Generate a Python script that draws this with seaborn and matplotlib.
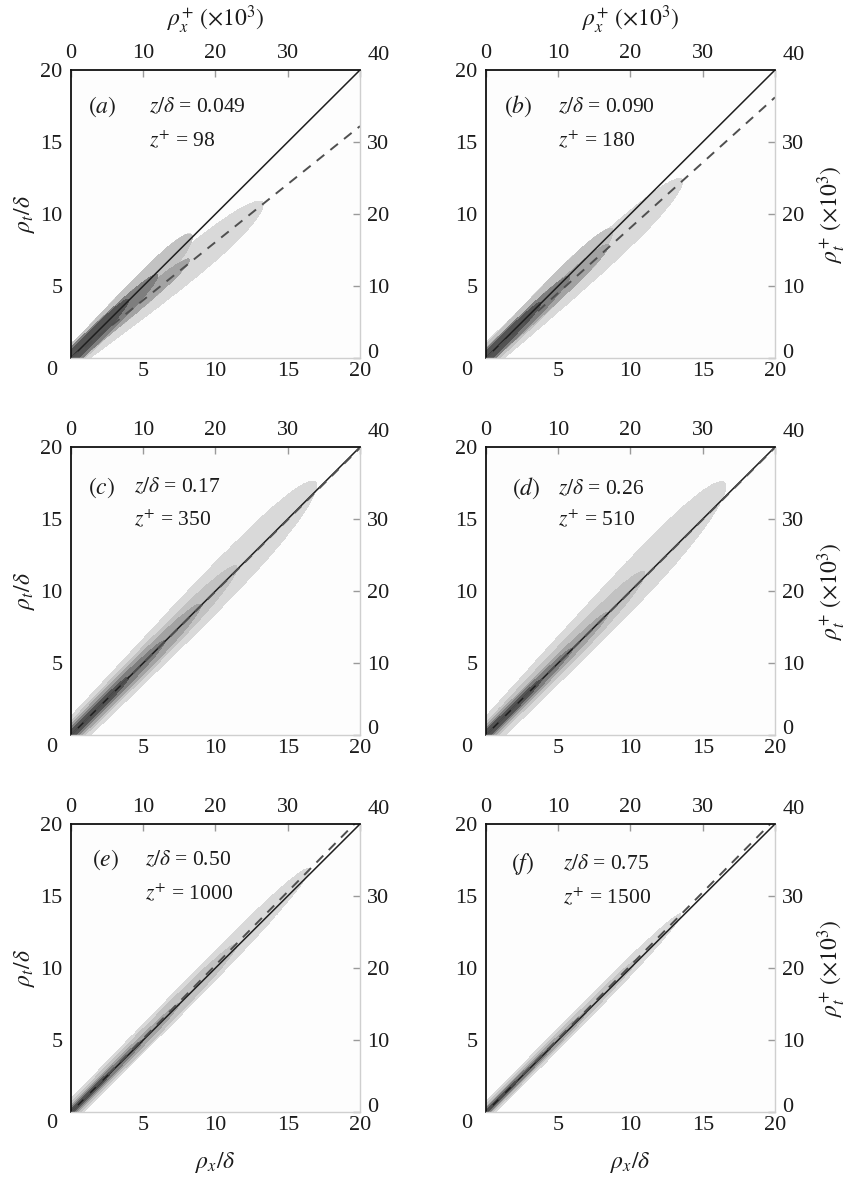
import numpy as np
import matplotlib
matplotlib.use('Agg')
import matplotlib.pyplot as plt
import seaborn as sns

# Panel annotations
panel_tags = ['a', 'b', 'c', 'd', 'e', 'f']
z_over_delta = ['0.049', '0.090', '0.17', '0.26', '0.50', '0.75']
z_plus = ['98', '180', '350', '510', '1000', '1500']

# Slopes of the reference lines (solid: rho_t = rho_x, dashed: ridge of the spectrum)
solid_slope = [1.0, 1.0, 1.0, 1.0, 1.0, 1.0]
dashed_slope = [0.805, 0.905, 0.997, 0.998, 1.02, 1.017]

# Shaded regions: (slope, half-height at origin, growth, end x, shade level)
bands_a = [(0.80, 1.0, 0.05, 13.3, 1), (1.00, 0.9, 0.06, 8.4, 2), (0.83, 0.55, 0.02, 8.2, 3),
           (0.95, 0.75, 0.00, 6.0, 4), (1.00, 0.55, 0.00, 4.0, 5)]
bands_b = [(0.90, 1.1, 0.04, 13.6, 1), (1.00, 0.9, 0.05, 8.8, 2), (0.92, 0.55, 0.03, 8.5, 3),
           (0.97, 0.65, 0.00, 5.8, 4), (1.00, 0.45, 0.00, 3.8, 5)]
bands_c = [(1.02, 1.3, 0.06, 17.0, 1), (1.01, 0.95, 0.03, 11.5, 2), (1.00, 0.75, 0.02, 9.0, 3),
           (1.00, 0.55, 0.00, 6.5, 4), (1.00, 0.35, 0.00, 4.0, 5)]
bands_d = [(1.04, 1.3, 0.07, 16.6, 1), (1.02, 0.85, 0.04, 11.0, 2), (1.00, 0.65, 0.00, 8.5, 3),
           (1.00, 0.45, 0.00, 6.0, 4), (1.00, 0.3, 0.00, 3.8, 5)]
bands_e = [(1.02, 0.9, 0.02, 16.5, 1), (1.01, 0.65, 0.02, 11.5, 2), (1.00, 0.45, 0.00, 7.5, 3),
           (1.00, 0.32, 0.00, 5.0, 4), (1.00, 0.2, 0.00, 2.8, 5)]
bands_f = [(1.015, 0.7, 0.01, 13.5, 1), (1.01, 0.5, 0.00, 10.5, 2), (1.00, 0.34, 0.00, 7.0, 3),
           (1.00, 0.24, 0.00, 4.5, 4), (1.00, 0.15, 0.00, 2.2, 5)]
all_bands = [bands_a, bands_b, bands_c, bands_d, bands_e, bands_f]

shade_colors = ['#d9d9d9', '#c2c2c2', '#a3a3a3', '#7e7e7e', '#545454']

# Text placement (data coords)
tag_x = [2.15, 2.25, 2.1, 2.75, 2.4, 2.5]
txt_x = [5.4, 4.95, 4.35, 4.95, 5.15, 5.35]
txt_y1 = [17.45, 17.45, 17.2, 17.1, 17.5, 17.2]
txt_y2 = [15.1, 15.1, 15.0, 14.95, 15.2, 14.9]

sns.set_theme(style='white')
plt.rcParams['font.family'] = ['Liberation Serif', 'DejaVu Serif']
plt.rcParams['mathtext.fontset'] = 'stix'

fig = plt.figure(figsize=(8.49, 11.82), dpi=100)
W, H = 849, 1182
col_left = [71, 486]
row_top = [70, 447, 824]
aw, ah = 289, 288

grid = np.linspace(0, 20, 801)
X, Y = np.meshgrid(grid, grid)


def shade_field(bands):
    F = np.zeros_like(X)
    for slope, h0, hk, xend, level in bands:
        taper = np.sqrt(np.clip(1 - (X / xend) ** 4, 0, None))
        half = (h0 + hk * X) * taper
        inside = np.abs(Y - slope * X) < half
        F = np.where(inside, np.maximum(F, level), F)
    return F


fs = 16
ink = '#1c1c1c'
for i in range(6):
    r, c = divmod(i, 2)
    ax = fig.add_axes([col_left[c] / W, 1 - (row_top[r] + ah) / H, aw / W, ah / H])
    ax.set_facecolor('#fdfdfd')

    F = shade_field(all_bands[i])
    ax.contourf(X, Y, F, levels=[0.5, 1.5, 2.5, 3.5, 4.5, 5.5], colors=shade_colors)

    xs = np.array([0.0, 20.0])
    sns.lineplot(x=xs, y=solid_slope[i] * xs, ax=ax, color='#1e1e1e', lw=1.1)
    sns.lineplot(x=xs, y=dashed_slope[i] * xs, ax=ax, color='#4f4f4f', lw=1.4,
                 linestyle=(0, (5, 4)))

    ax.set_xlim(0, 20)
    ax.set_ylim(0, 20)
    ax.set_xticks([0, 5, 10, 15, 20])
    ax.set_xticklabels(['', '5', '10', '15', '20'])
    ax.set_yticks([5, 10, 15, 20])
    ax.set_yticklabels(['5', '10', '15', '20'])
    ax.tick_params(axis='both', direction='in', length=5, width=1, color='#8a8a8a',
                   labelcolor=ink, labelsize=fs)
    ax.tick_params(axis='x', pad=3)
    ax.tick_params(axis='y', pad=6)
    ax.set_xlabel('')
    ax.set_ylabel('')

    for side in ['left', 'top']:
        ax.spines[side].set_color('#111111')
        ax.spines[side].set_linewidth(1.3)
    for side in ['bottom', 'right']:
        ax.spines[side].set_color('#cfcfcf')
        ax.spines[side].set_linewidth(1.0)

    top = ax.secondary_xaxis('top', functions=(lambda v: 2 * v, lambda v: v / 2))
    top.set_xticks([0, 10, 20, 30, 40])
    top.set_xticklabels(['0', '10', '20', '30', ''])
    top.tick_params(direction='in', length=5, width=1, color='#9a9a9a',
                    labelcolor=ink, labelsize=fs, pad=5)
    for s in top.spines.values():
        s.set_visible(False)

    right = ax.secondary_yaxis('right', functions=(lambda v: 2 * v, lambda v: v / 2))
    right.set_yticks([0, 10, 20, 30])
    right.set_yticklabels(['', '10', '20', '30'])
    right.tick_params(direction='in', length=5, width=1, color='#9a9a9a',
                      labelcolor=ink, labelsize=fs, pad=5)
    for s in right.spines.values():
        s.set_visible(False)

    # corner labels nudged off the corners
    ax.annotate('40', xy=(1, 1), xycoords='axes fraction', xytext=(19, 15),
                textcoords='offset pixels', ha='center', va='center', fontsize=fs,
                color=ink)
    ax.annotate('0', xy=(0, 0), xycoords='axes fraction', xytext=(-19, -12),
                textcoords='offset pixels', ha='center', va='center', fontsize=fs,
                color=ink)
    ax.annotate('0', xy=(1, 0), xycoords='axes fraction', xytext=(7, 5),
                textcoords='offset pixels', ha='left', va='center', fontsize=fs,
                color=ink)

    ax.text(tag_x[i], txt_y1[i], r'$(%s)$' % panel_tags[i], ha='center', va='center',
            fontsize=17, color=ink)
    ax.text(txt_x[i], txt_y1[i], r'$z/\delta$ = ' + z_over_delta[i], ha='left',
            va='center', fontsize=15.5, color=ink)
    ax.text(txt_x[i], txt_y2[i], r'$z^{+}$ = ' + z_plus[i], ha='left',
            va='center', fontsize=15.5, color=ink)

    if c == 0:
        ax.text(-0.16, 0.5, r'$\rho_t/\delta$', transform=ax.transAxes, rotation=90,
                ha='center', va='center', fontsize=17, color=ink)
    else:
        ax.text(1.198, 0.5, r'$\rho_t^{+}\ (\times 10^3)$', transform=ax.transAxes,
                rotation=90, ha='center', va='center', fontsize=17, color=ink)
    if r == 0:
        ax.text(0.5, 1.174, r'$\rho_x^{+}\ (\times 10^3)$', transform=ax.transAxes,
                ha='center', va='center', fontsize=17, color=ink)
    if r == 2:
        ax.text(0.5, -0.177, r'$\rho_x/\delta$', transform=ax.transAxes,
                ha='center', va='center', fontsize=17, color=ink)

fig.savefig('out.png', dpi=100)
